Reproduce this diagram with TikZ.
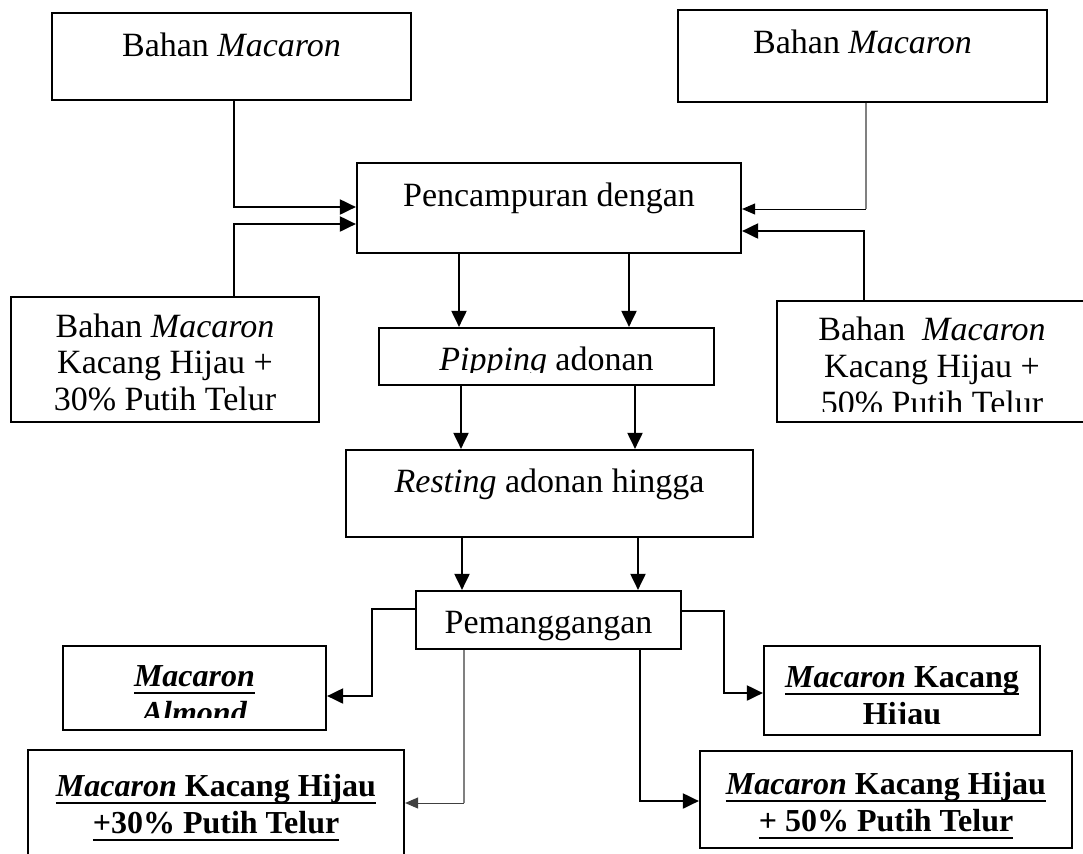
\documentclass[tikz,border=0pt]{standalone}
\usepackage{fontspec}
\setmainfont{Liberation Serif}
\usetikzlibrary{arrows.meta}
\newcommand\myul[1]{\setbox0\hbox{#1}\rlap{\rule[-4pt]{\wd0}{1.2pt}}\box0}
\tikzset{
  box/.style={draw, line width=1.1pt, inner sep=0pt, fill=white},
  txt/.style={anchor=base, inner sep=0pt, font=\fontsize{17}{20}\selectfont},
  btxt/.style={anchor=base, inner sep=0pt, font=\fontsize{16}{19}\selectfont\bfseries},
  arrowA/.style={line width=1pt, -{Triangle[length=8pt,width=7.5pt]}},
  arrowB/.style={line width=0.5pt, -{Triangle[length=6.5pt,width=5.5pt]}},
  greyline/.style={line width=0.6pt, draw=gray},
}
\begin{document}
\begin{tikzpicture}[x=0.5pt,y=-0.5pt]
\useasboundingbox (0,0) rectangle (1083,853);
\clip (0,0) rectangle (1083,853);
\fill[white] (0,0) rectangle (1083,853);

% boxes
\node[box, minimum width=179.5pt, minimum height=43.5pt] (TL) at (231.5,56.5) {};
\node[box, minimum width=184.5pt, minimum height=46pt] (TR) at (862.5,56) {};
\node[box, minimum width=192pt, minimum height=45pt] (MIX) at (549,208) {};
\node[box, minimum width=154pt, minimum height=62.5pt] (L) at (165,359.5) {};
\node[box, minimum width=155pt, minimum height=60.5pt] (R) at (932,361.5) {};
\node[box, minimum width=167.5pt, minimum height=28.5pt] (PIP) at (546.5,356.5) {};
\node[box, minimum width=203.5pt, minimum height=43.5pt] (REST) at (549.5,493.5) {};
\node[box, minimum width=132.5pt, minimum height=29pt] (PEM) at (548.5,620) {};
\node[box, minimum width=131.5pt, minimum height=42pt] (ALM) at (194.5,688) {};
\node[box, minimum width=188pt, minimum height=65pt] (BL) at (216,815) {};
\node[box, minimum width=138pt, minimum height=44.5pt] (KH) at (902,690.5) {};
\node[box, minimum width=186pt, minimum height=48.5pt] (BR) at (886,799.5) {};

% texts
\node[txt] (tTL) at (231.5,56) {Bahan \textit{Macaron}};
\node[txt] (tTR) at (862.5,53) {Bahan \textit{Macaron}};
\node[txt] (tMIX) at (549,206) {Pencampuran dengan};
\node[txt] (tL1) at (165,337) {Bahan \textit{Macaron}};
\node[txt] (tL2) at (165,373) {Kacang Hijau +};
\node[txt] (tL3) at (165,410) {30\% Putih Telur};
\node[txt] (tR1) at (932,340) {Bahan\ \ \textit{Macaron}};
\node[txt] (tR2) at (932,377) {Kacang Hijau +};
\begin{scope}
  \clip (R.north west) rectangle (R.east |- 0,411);
  \node[txt] (tR3) at (932,414) {50\% Putih Telur};
\end{scope}
\begin{scope}
  \clip (PIP.north west) rectangle (PIP.east |- 0,372);
  \node[txt] (tPIP) at (546.5,370) {\textit{Pipping} adonan};
\end{scope}
\node[txt] (tREST) at (549.5,492) {\textit{Resting} adonan hingga};
\node[txt] (tPEM) at (548.5,633) {Pemanggangan};
\node[btxt] (tALM1) at (194.5,686) {\myul{\textit{Macaron}}};
\begin{scope}
  \clip (ALM.north west) rectangle (ALM.east |- 0,717);
  \node[btxt] (tALM2) at (194.5,723) {\textit{Almond}};
\end{scope}
\node[btxt] (tKH1) at (902,687) {\myul{\textit{Macaron} Kacang}};
\begin{scope}
  \clip (KH.north west) rectangle (KH.east |- 0,723);
  \node[btxt] (tKH2) at (902,724) {Hijau};
\end{scope}
\node[btxt] (tBL1) at (216,796) {\myul{\textit{Macaron} Kacang Hijau}};
\node[btxt] (tBL2) at (216,833) {\myul{+30\% Putih Telur}};
\node[btxt] (tBR1) at (886,794) {\myul{\textit{Macaron} Kacang Hijau}};
\node[btxt] (tBR2) at (886,831) {\myul{+ 50\% Putih Telur}};

% connectors into mixing
\draw[arrowA] (TL.south -| 234,0) |- ([yshift=0.5pt]MIX.west);
\draw[arrowA] (L.north -| 234,0) |- ([yshift=-8pt]MIX.west);
\coordinate (g2) at (866,209);
\draw[greyline] (TR.south -| 866,0) -- (g2);
\draw[arrowB] (g2) -- (MIX.east |- g2);
\draw[arrowA] (R.north -| 864,0) |- ([yshift=-11.5pt]MIX.east);

% vertical flows
\draw[arrowA] (MIX.south -| 459,0) -- (PIP.north -| 459,0);
\draw[arrowA] (MIX.south -| 629,0) -- (PIP.north -| 629,0);
\draw[arrowA] (PIP.south -| 461,0) -- (REST.north -| 461,0);
\draw[arrowA] (PIP.south -| 635,0) -- (REST.north -| 635,0);
\draw[arrowA] (REST.south -| 462,0) -- (PEM.north -| 462,0);
\draw[arrowA] (REST.south -| 638,0) -- (PEM.north -| 638,0);

% outputs
\draw[arrowA] ([yshift=5.5pt]PEM.west) -- ++(-21.5pt,0) |- ([yshift=-4pt]ALM.east);
\draw[arrowA] ([yshift=4.5pt]PEM.east) -- ++(21pt,0) |- ([yshift=-1.25pt]KH.west);
\coordinate (g1) at (464,803);
\draw[greyline] (PEM.south -| 464,0) -- (g1);
\draw[arrowB, draw=black!75, fill=black] (g1) -- (BL.east |- g1);
\draw[arrowA] (PEM.south -| 640,0) |- ([yshift=-0.75pt]BR.west);
\end{tikzpicture}
\end{document}
